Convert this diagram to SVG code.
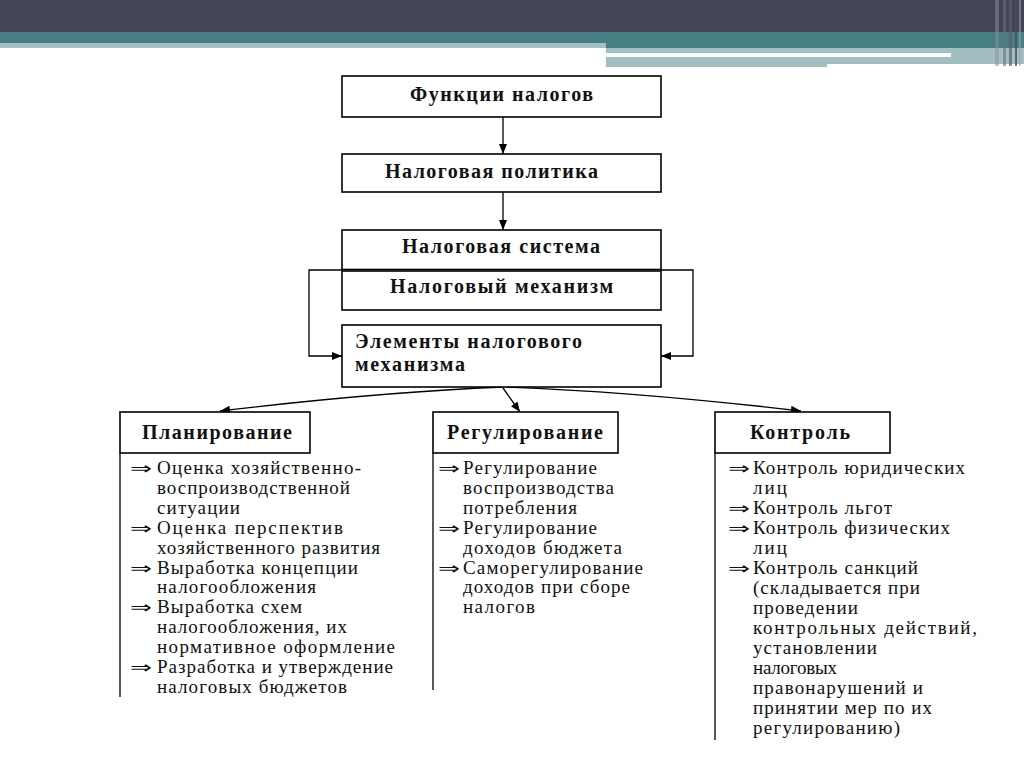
<svg xmlns="http://www.w3.org/2000/svg" width="1024" height="767" viewBox="0 0 1024 767">
<defs>
<marker id="ah" viewBox="0 0 10 10" refX="10" refY="5" markerWidth="10" markerHeight="10" markerUnits="userSpaceOnUse" orient="auto">
<path d="M0,1 L10,5 L0,9 Z" fill="#000"/>
</marker>
</defs>
<style>
.box{fill:#fff;stroke:#000;stroke-width:1.6}
.ln{fill:none;stroke:#000;stroke-width:1.3}
.t{font-family:'Liberation Serif','Times New Roman','DejaVu Serif',serif;font-weight:bold;font-size:20px;fill:#111}
.b{font-family:'Liberation Serif','Times New Roman','DejaVu Serif',serif;font-size:19px;fill:#111}
.ar{font-family:'DejaVu Sans',sans-serif;font-size:17px;fill:#111}
</style>
<rect width="1024" height="767" fill="#fff"/>
<g id="header">
<rect x="0" y="0" width="1024" height="32" fill="#434456"/>
<rect x="0" y="32" width="1024" height="16" fill="#467f83"/>
<rect x="0" y="43" width="606" height="5" fill="#a4c0c3"/>
<rect x="606" y="48" width="418" height="16" fill="#a2bec1"/>
<rect x="606" y="53" width="345" height="4" fill="#ffffff"/>
<rect x="606" y="64" width="221" height="3" fill="#a2bec1"/>
<rect x="995" y="0" width="4" height="66" fill="#8a8d99" opacity="0.5"/>
<rect x="1003" y="0" width="3" height="66" fill="#6b6e7c" opacity="0.6"/>
<rect x="1009" y="0" width="3" height="66" fill="#5c5f6e" opacity="0.7"/>
<rect x="1015" y="0" width="2" height="66" fill="#4b4d5e" opacity="0.8"/>
<rect x="1019" y="0" width="2" height="66" fill="#9c9fa8" opacity="0.6"/>
</g>
<g id="connectors">
<line class="ln" x1="503" y1="117" x2="503" y2="154" marker-end="url(#ah)"/>
<line class="ln" x1="503" y1="192" x2="503" y2="230" marker-end="url(#ah)"/>
<polyline class="ln" points="342,270 309,270 309,356 342,356" marker-end="url(#ah)"/>
<polyline class="ln" points="661,270 693,270 693,356 661,356" marker-end="url(#ah)"/>
<path class="ln" d="M503,387 Q380,392 220,411" marker-end="url(#ah)"/>
<line class="ln" x1="503" y1="388" x2="520" y2="412" marker-end="url(#ah)"/>
<path class="ln" d="M507,387 Q640,392 801,411" marker-end="url(#ah)"/>
<line class="ln" x1="120" y1="453" x2="120" y2="697"/>
<line class="ln" x1="433" y1="453" x2="433" y2="690"/>
<line class="ln" x1="715" y1="453" x2="715" y2="740"/>
</g>
<g id="n1">
<rect class="box" x="342" y="76" width="319" height="41"/>
<text class="t" x="410" y="101" textLength="183">Функции налогов</text>
</g>
<g id="n2">
<rect class="box" x="342" y="154" width="319" height="38"/>
<text class="t" x="385" y="178" textLength="213">Налоговая политика</text>
</g>
<g id="n3">
<rect class="box" x="342" y="230" width="319" height="39.5"/>
<text class="t" x="402" y="253" textLength="198">Налоговая система</text>
</g>
<g id="n4">
<rect class="box" x="342" y="271" width="319" height="39"/>
<text class="t" x="390" y="293" textLength="223">Налоговый механизм</text>
</g>
<g id="n5">
<rect class="box" x="342" y="325" width="319" height="62"/>
<text class="t" x="355" y="348" textLength="227">Элементы налогового</text>
<text class="t" x="355" y="371" textLength="110">механизма</text>
</g>
<g id="n6">
<rect class="box" x="120" y="412" width="190" height="41"/>
<text class="t" x="142" y="439" textLength="150">Планирование</text>
</g>
<g id="n7">
<rect class="box" x="433" y="412" width="185" height="41"/>
<text class="t" x="447" y="439" textLength="156">Регулирование</text>
</g>
<g id="n8">
<rect class="box" x="715" y="412" width="175" height="41"/>
<text class="t" x="750" y="439" textLength="100">Контроль</text>
</g>
<g id="list-planning">
<text class="ar" x="130" y="474" textLength="22" lengthAdjust="spacingAndGlyphs">⇒</text>
<text class="ar" x="130" y="534" textLength="22" lengthAdjust="spacingAndGlyphs">⇒</text>
<text class="ar" x="130" y="574" textLength="22" lengthAdjust="spacingAndGlyphs">⇒</text>
<text class="ar" x="130" y="613" textLength="22" lengthAdjust="spacingAndGlyphs">⇒</text>
<text class="ar" x="130" y="673" textLength="22" lengthAdjust="spacingAndGlyphs">⇒</text>
<text class="b" x="157" y="474" textLength="204">Оценка хозяйственно-</text>
<text class="b" x="157" y="494" textLength="193">воспроизводственной</text>
<text class="b" x="157" y="514" textLength="83">ситуации</text>
<text class="b" x="157" y="534" textLength="186">Оценка перспектив</text>
<text class="b" x="157" y="554" textLength="223">хозяйственного развития</text>
<text class="b" x="157" y="574" textLength="201">Выработка концепции</text>
<text class="b" x="157" y="593" textLength="159">налогообложения</text>
<text class="b" x="157" y="613" textLength="145">Выработка схем</text>
<text class="b" x="157" y="633" textLength="190">налогообложения, их</text>
<text class="b" x="157" y="653" textLength="238">нормативное оформление</text>
<text class="b" x="157" y="673" textLength="236">Разработка и утверждение</text>
<text class="b" x="157" y="693" textLength="190">налоговых бюджетов</text>
</g>
<g id="list-regulation">
<text class="ar" x="438" y="474" textLength="22" lengthAdjust="spacingAndGlyphs">⇒</text>
<text class="ar" x="438" y="534" textLength="22" lengthAdjust="spacingAndGlyphs">⇒</text>
<text class="ar" x="438" y="574" textLength="22" lengthAdjust="spacingAndGlyphs">⇒</text>
<text class="b" x="463" y="474" textLength="134">Регулирование</text>
<text class="b" x="463" y="494" textLength="151">воспроизводства</text>
<text class="b" x="463" y="514" textLength="114">потребления</text>
<text class="b" x="463" y="534" textLength="134">Регулирование</text>
<text class="b" x="463" y="554" textLength="159">доходов бюджета</text>
<text class="b" x="463" y="574" textLength="180">Саморегулирование</text>
<text class="b" x="463" y="593" textLength="167">доходов при сборе</text>
<text class="b" x="463" y="613" textLength="72">налогов</text>
</g>
<g id="list-control">
<text class="ar" x="728" y="474" textLength="22" lengthAdjust="spacingAndGlyphs">⇒</text>
<text class="ar" x="728" y="514" textLength="22" lengthAdjust="spacingAndGlyphs">⇒</text>
<text class="ar" x="728" y="534" textLength="22" lengthAdjust="spacingAndGlyphs">⇒</text>
<text class="ar" x="728" y="574" textLength="22" lengthAdjust="spacingAndGlyphs">⇒</text>
<text class="b" x="753" y="474" textLength="212">Контроль юридических</text>
<text class="b" x="753" y="494" textLength="34">лиц</text>
<text class="b" x="753" y="514" textLength="139">Контроль льгот</text>
<text class="b" x="753" y="534" textLength="197">Контроль физических</text>
<text class="b" x="753" y="554" textLength="34">лиц</text>
<text class="b" x="753" y="574" textLength="165">Контроль санкций</text>
<text class="b" x="753" y="594" textLength="167">(складывается при</text>
<text class="b" x="753" y="614" textLength="105">проведении</text>
<text class="b" x="753" y="634" textLength="224">контрольных действий,</text>
<text class="b" x="753" y="654" textLength="124">установлении</text>
<text class="b" x="753" y="674" textLength="84">налоговых</text>
<text class="b" x="753" y="694" textLength="170">правонарушений и</text>
<text class="b" x="753" y="714" textLength="179">принятии мер по их</text>
<text class="b" x="753" y="734" textLength="147">регулированию)</text>
</g>
</svg>
